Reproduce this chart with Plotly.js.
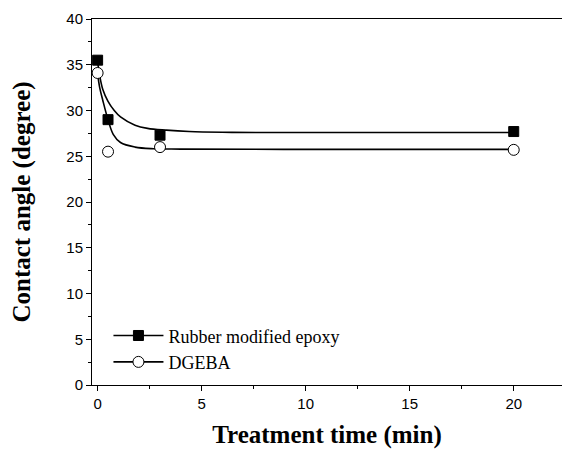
<!DOCTYPE html>
<html>
<head>
<meta charset="utf-8">
<script src="https://cdn.plot.ly/plotly-3.0.1.min.js"></script>
<style>html,body{margin:0;padding:0;background:#fff;}#chart{width:562px;height:452px;}</style>
</head>
<body>
<div id="chart"></div>
<script>
// Measured data points
const rubberX = [0, 0.5, 3, 20];
const rubberY = [35.5, 29.0, 27.3, 27.7];
const dgebaX = [0, 0.5, 3, 20];
const dgebaY = [34.1, 25.5, 26.0, 25.7];

// Fitted curves
const rubberFitX = [0, 0.1, 0.25, 0.5, 0.8, 1.1, 1.8, 2.4, 3.3, 4.4, 6, 8, 14, 20];
const rubberFitY = [35.3, 33.8, 32.3, 31.0, 30.0, 29.3, 28.4, 28.05, 27.85, 27.7, 27.62, 27.6, 27.6, 27.6];
const dgebaFitX = [0, 0.1, 0.25, 0.5, 0.75, 1.1, 1.8, 2.7, 4, 10, 20];
const dgebaFitY = [34.0, 32.5, 31.1, 29.0, 27.4, 26.5, 26.0, 25.82, 25.78, 25.75, 25.75];

const legendNames = ["Rubber modified epoxy", "DGEBA"];
const xTicks = [0, 5, 10, 15, 20];
const yTicks = [0, 5, 10, 15, 20, 25, 30, 35, 40];

const lineStyle = {color: "#000", width: 1.6};
const squareMarker = {symbol: "square", size: 10, color: "#000", line: {color: "#000", width: 1}};
const circleMarker = {symbol: "circle", size: 11, color: "#fff", line: {color: "#000", width: 1}};

const traces = [
  {x: rubberFitX, y: rubberFitY, mode: "lines", line: Object.assign({shape: "spline", smoothing: 1}, lineStyle), showlegend: false, hoverinfo: "skip"},
  {x: dgebaFitX, y: dgebaFitY, mode: "lines", line: Object.assign({shape: "spline", smoothing: 1}, lineStyle), showlegend: false, hoverinfo: "skip"},
  {x: rubberX, y: rubberY, mode: "markers", marker: squareMarker, showlegend: false},
  {x: dgebaX, y: dgebaY, mode: "markers", marker: circleMarker, showlegend: false},
  {x: [null], y: [null], mode: "lines+markers", name: legendNames[0], line: lineStyle, marker: squareMarker, legendgroup: "a"},
  {x: [null], y: [null], mode: "lines+markers", name: legendNames[1], line: lineStyle, marker: circleMarker, legendgroup: "b"}
];

const layout = {
  width: 562, height: 452,
  margin: {l: 92, r: 0, t: 19, b: 67},
  paper_bgcolor: "#fff", plot_bgcolor: "#fff",
  font: {family: "Liberation Sans, Arial, sans-serif", color: "#000", size: 15},
  xaxis: {
    range: [-0.27, 22.32], tickvals: xTicks, ticktext: xTicks.map(String),
    ticks: "outside", ticklen: 5, tickwidth: 1, tickcolor: "#000",
    minor: {dtick: 2.5, tick0: 0, ticks: "outside", ticklen: 3, tickcolor: "#000"},
    showline: true, linecolor: "#000", linewidth: 1, mirror: true,
    showgrid: false, zeroline: false,
    tickfont: {size: 15, family: "Liberation Sans, Arial, sans-serif"},
    title: {text: "Treatment time (min)", font: {family: "Liberation Serif, Times New Roman, serif", size: 25, weight: "bold"}, standoff: 14}
  },
  yaxis: {
    range: [0, 40], tickvals: yTicks, ticktext: yTicks.map(String),
    ticks: "outside", ticklen: 5, tickwidth: 1, tickcolor: "#000",
    minor: {dtick: 2.5, tick0: 0, ticks: "outside", ticklen: 3, tickcolor: "#000"},
    showline: true, linecolor: "#000", linewidth: 1, mirror: false,
    showgrid: false, zeroline: false,
    tickfont: {size: 15, family: "Liberation Sans, Arial, sans-serif"},
    title: {text: "Contact angle (degree)", font: {family: "Liberation Serif, Times New Roman, serif", size: 25, weight: "bold"}, standoff: 28}
  },
  legend: {
    x: 0.035, y: 0.185, xanchor: "left", yanchor: "top",
    bgcolor: "rgba(0,0,0,0)", borderwidth: 0,
    font: {family: "Liberation Serif, Times New Roman, serif", size: 18, color: "#000"},
    traceorder: "grouped", tracegroupgap: 0, itemwidth: 50
  },
  showlegend: true
};

Plotly.newPlot("chart", traces, layout, {staticPlot: true, displayModeBar: false});
</script>
</body>
</html>
